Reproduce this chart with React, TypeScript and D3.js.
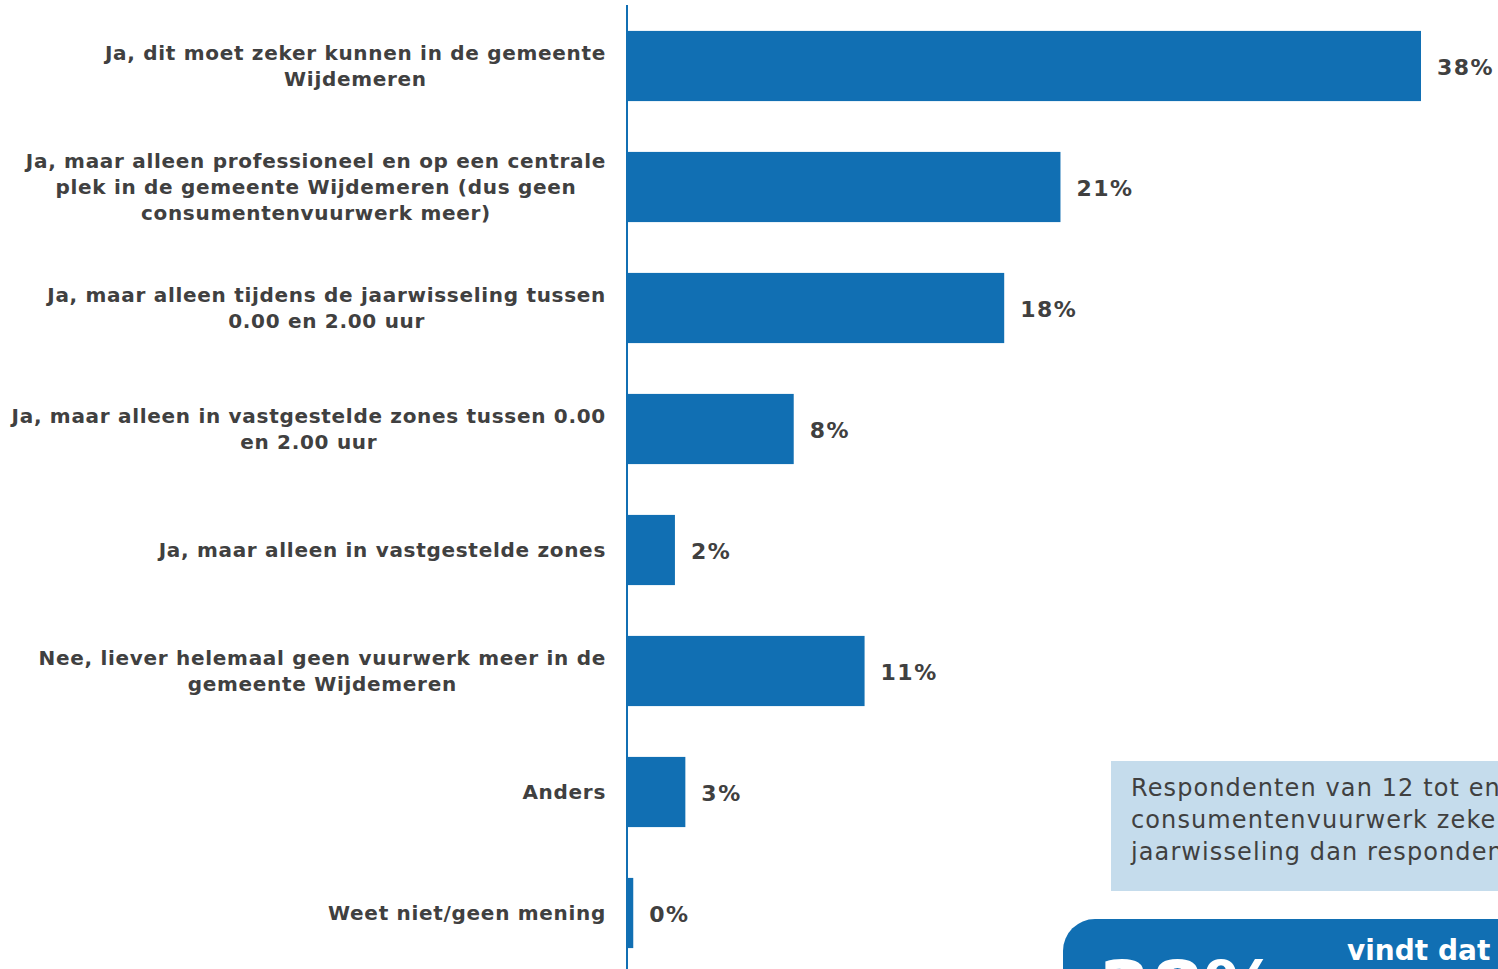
import React, { useEffect, useRef } from "react";
import * as d3 from "d3";

const categories: string[][] = [
  ["Ja, dit moet zeker kunnen in de gemeente", "Wijdemeren"],
  ["Ja, maar alleen professioneel en op een centrale", "plek in de gemeente Wijdemeren (dus geen", "consumentenvuurwerk meer)"],
  ["Ja, maar alleen tijdens de jaarwisseling tussen", "0.00 en 2.00 uur"],
  ["Ja, maar alleen in vastgestelde zones tussen 0.00", "en 2.00 uur"],
  ["Ja, maar alleen in vastgestelde zones"],
  ["Nee, liever helemaal geen vuurwerk meer in de", "gemeente Wijdemeren"],
  ["Anders"],
  ["Weet niet/geen mening"],
];
const values: number[] = [38.1, 20.8, 18.1, 8.0, 2.3, 11.4, 2.8, 0.3];
const valueLabels: string[] = ["38%", "21%", "18%", "8%", "2%", "11%", "3%", "0%"];
const noteLines: string[] = ["Respondenten van 12 tot en", "consumentenvuurwerk zeker", "jaarwisseling dan respondenten"];
const calloutBig = "38%";
const calloutText = "vindt dat";

const W = 1498;
const H = 969;
const BLUE = "#116fb3";
const TEXT = "#404040";
const FONT = "'DejaVu Sans', Verdana, sans-serif";

export default function App() {
  const ref = useRef<SVGSVGElement>(null);

  useEffect(() => {
    document.body.style.margin = "0";
    const svg = d3.select(ref.current);
    svg.selectAll("*").remove();

    const axisX = 627;
    const x = d3.scaleLinear().domain([0, 38.1]).range([axisX, 1421]);
    const y = d3
      .scaleBand<number>()
      .domain(d3.range(values.length))
      .range([5.5, 973.5])
      .paddingInner(0.42)
      .paddingOuter(0.21);

    const defs = svg.append("defs");
    defs
      .append("clipPath")
      .attr("id", "noteClip")
      .append("rect")
      .attr("x", 1111)
      .attr("y", 761)
      .attr("width", W - 1111)
      .attr("height", 130);
    defs
      .append("clipPath")
      .attr("id", "calloutClip")
      .append("rect")
      .attr("x", 1063)
      .attr("y", 919)
      .attr("width", W - 1063)
      .attr("height", H - 919);

    const g = svg.append("g");

    g.selectAll("rect.bar")
      .data(values)
      .join("rect")
      .attr("class", "bar")
      .attr("x", x(0))
      .attr("y", (_, i) => y(i)!)
      .attr("width", (d) => x(d) - x(0))
      .attr("height", y.bandwidth())
      .attr("fill", BLUE);

    g.append("line")
      .attr("x1", axisX)
      .attr("x2", axisX)
      .attr("y1", 5)
      .attr("y2", H)
      .attr("stroke", BLUE)
      .attr("stroke-width", 2);

    g.selectAll("text.val")
      .data(values)
      .join("text")
      .attr("class", "val")
      .attr("x", (d) => x(d) + 16)
      .attr("y", (_, i) => y(i)! + y.bandwidth() / 2 + 1.5)
      .attr("dominant-baseline", "central")
      .attr("font-family", FONT)
      .attr("font-weight", "bold")
      .attr("font-size", 22)
      .attr("letter-spacing", 1.5)
      .attr("fill", TEXT)
      .text((_, i) => valueLabels[i]);

    const lineH = 26;
    const labelRight = 606;
    categories.forEach((lines, i) => {
      const cy = y(i)! + y.bandwidth() / 2;
      const tg = g.append("g");
      const texts = lines.map((l, j) =>
        tg
          .append("text")
          .attr("y", cy + (j - (lines.length - 1) / 2) * lineH - 0.5)
          .attr("dominant-baseline", "central")
          .attr("text-anchor", "middle")
          .attr("font-family", FONT)
          .attr("font-weight", "bold")
          .attr("font-size", 20)
          .attr("letter-spacing", 0.7)
          .attr("fill", TEXT)
          .text(l)
      );
      const maxW = d3.max(texts, (t) => (t.node() as SVGTextElement).getComputedTextLength()) || 0;
      texts.forEach((t) => t.attr("x", labelRight - maxW / 2));
    });

    // note box
    const note = g.append("g").attr("clip-path", "url(#noteClip)");
    note
      .append("rect")
      .attr("x", 1111)
      .attr("y", 761)
      .attr("width", W - 1111)
      .attr("height", 130)
      .attr("fill", "#c5dcec");
    noteLines.forEach((l, j) => {
      note
        .append("text")
        .attr("x", 1131)
        .attr("y", 788 + j * 32)
        .attr("dominant-baseline", "central")
        .attr("font-family", FONT)
        .attr("font-size", 24)
        .attr("letter-spacing", 1.1)
        .attr("fill", TEXT)
        .text(l);
    });

    // callout
    const call = g.append("g").attr("clip-path", "url(#calloutClip)");
    call
      .append("rect")
      .attr("x", 1063)
      .attr("y", 919)
      .attr("width", 500)
      .attr("height", 200)
      .attr("rx", 32)
      .attr("fill", BLUE);
    call
      .append("text")
      .attr("x", 1098)
      .attr("y", 1016)
      .attr("font-family", FONT)
      .attr("font-weight", "bold")
      .attr("font-size", 76)
      .attr("fill", "#ffffff")
      .text(calloutBig);
    call
      .append("text")
      .attr("x", 1347)
      .attr("y", 960)
      .attr("font-family", FONT)
      .attr("font-weight", "bold")
      .attr("font-size", 28)
      .attr("fill", "#ffffff")
      .text(calloutText);
  }, []);

  return (
    <svg
      ref={ref}
      width={W}
      height={H}
      style={{ display: "block", background: "#ffffff", overflow: "hidden" }}
    />
  );
}
